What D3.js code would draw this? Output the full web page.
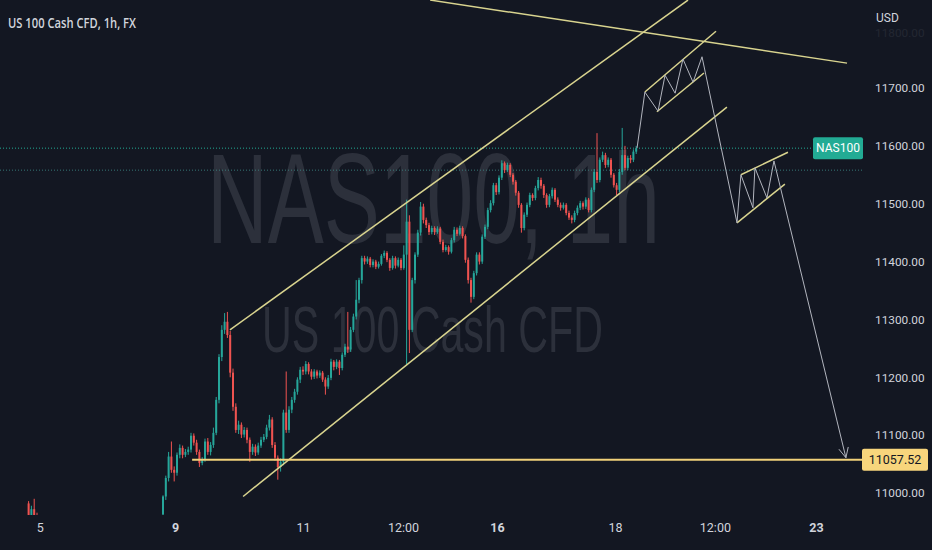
<!DOCTYPE html>
<html><head><meta charset="utf-8">
<script src="https://cdn.jsdelivr.net/npm/d3@7"></script>
<style>html,body{margin:0;padding:0;background:#131722;overflow:hidden}</style>
</head><body>
<svg id="c" width="932" height="550"></svg>
<script>
// ---------- data ----------
const title = "US 100 Cash CFD, 1h, FX";
const watermarkMain = "NAS100, 1h";
const watermarkSub = "US 100 Cash CFD";
const currency = "USD";
const symbol = "NAS100";
const priceTicks = [11000, 11100, 11200, 11300, 11400, 11500, 11600, 11700];
const fadedTick = 11800;
const timeTickLabels = ["5", "9", "11", "12:00", "16", "18", "12:00", "23"];
const timeTickBars = [-44, 4.3, 50, 85.7, 119.3, 161.4, 197.1, 233.2];
const timeTickBold = [false, true, false, false, true, false, false, true];

// hourly bars [open, high, low, close]
const earlyStart = -48;
const earlyBars = [
  [10982, 10986, 10955, 10962], [10962, 10978, 10950, 10972],
  [10972, 10990, 10955, 10958], [10958, 10966, 10940, 10945]
];
const bars = [
  [10963,10996,10954,10994],[10994,11030,10988,11026],[11026,11071,11020,11063],[11063,11089,11035,11040],
  [11040,11046,11020,11035],[11035,11070,11030,11066],[11066,11084,11060,11078],[11078,11082,11060,11066],
  [11066,11076,11062,11071],[11071,11080,11066,11075],[11075,11104,11070,11099],[11099,11103,11082,11087],
  [11087,11092,11066,11071],[11071,11075,11045,11052],[11052,11062,11048,11058],[11058,11094,11054,11089],
  [11089,11095,11066,11071],[11071,11088,11065,11083],[11083,11113,11078,11104],[11104,11166,11100,11161],
  [11161,11240,11155,11235],[11235,11290,11228,11282],[11282,11311,11275,11296],[11296,11313,11268,11273],
  [11273,11280,11200,11208],[11208,11215,11142,11149],[11149,11155,11104,11109],[11109,11125,11102,11118],
  [11118,11122,11095,11101],[11101,11114,11096,11109],[11109,11113,11086,11092],[11092,11096,11054,11071],
  [11071,11085,11066,11080],[11080,11084,11064,11070],[11070,11087,11066,11082],[11082,11097,11078,11092],
  [11092,11102,11088,11097],[11097,11118,11093,11113],[11113,11135,11108,11127],[11127,11131,11078,11083],
  [11083,11088,11056,11061],[11061,11065,11023,11045],[11045,11060,11037,11054],[11054,11144,11048,11139],
  [11139,11210,11104,11109],[11109,11150,11104,11144],[11144,11166,11138,11161],[11161,11180,11156,11175],
  [11175,11200,11170,11196],[11196,11218,11190,11213],[11213,11219,11204,11210],[11210,11228,11205,11223],
  [11223,11226,11205,11210],[11210,11214,11196,11201],[11201,11214,11197,11210],[11210,11213,11198,11203],
  [11203,11212,11199,11208],[11208,11211,11192,11196],[11196,11200,11170,11184],[11184,11204,11180,11199],
  [11199,11232,11195,11227],[11227,11230,11212,11218],[11218,11231,11214,11227],[11227,11230,11204,11216],
  [11216,11243,11212,11239],[11239,11258,11235,11253],[11253,11313,11242,11248],[11248,11287,11244,11282],
  [11282,11310,11278,11305],[11305,11368,11300,11334],[11334,11372,11328,11368],[11368,11410,11362,11406],
  [11406,11410,11395,11400],[11400,11409,11396,11405],[11405,11408,11390,11394],[11394,11404,11390,11400],
  [11400,11403,11387,11391],[11391,11400,11388,11396],[11396,11413,11393,11410],[11410,11419,11406,11415],
  [11415,11418,11399,11403],[11403,11406,11384,11389],[11389,11410,11386,11406],[11406,11409,11388,11393],
  [11393,11407,11390,11403],[11403,11406,11385,11389],[11389,11428,11386,11412],[11412,11507,11222,11469],
  [11469,11480,11242,11282],[11282,11372,11278,11368],[11368,11416,11362,11412],[11412,11455,11408,11450],
  [11450,11503,11445,11495],[11495,11500,11466,11472],[11472,11476,11458,11463],[11463,11467,11446,11451],
  [11451,11462,11447,11458],[11458,11461,11446,11451],[11451,11461,11448,11457],[11457,11460,11430,11434],
  [11434,11438,11416,11420],[11420,11429,11417,11425],[11425,11428,11412,11417],[11417,11441,11414,11437],
  [11437,11460,11433,11455],[11455,11459,11444,11448],[11448,11462,11445,11458],[11458,11461,11440,11444],
  [11444,11447,11398,11403],[11403,11407,11362,11368],[11368,11372,11329,11339],[11339,11384,11335,11380],
  [11380,11416,11376,11412],[11412,11416,11395,11400],[11400,11447,11396,11443],[11443,11464,11439,11460],
  [11460,11493,11456,11489],[11489,11506,11485,11501],[11501,11536,11497,11532],[11532,11536,11515,11520],
  [11520,11549,11516,11545],[11545,11575,11541,11570],[11570,11573,11553,11558],[11558,11571,11555,11567],
  [11567,11570,11546,11550],[11550,11553,11533,11538],[11538,11541,11514,11519],[11519,11522,11493,11498],
  [11498,11501,11450,11458],[11458,11485,11454,11481],[11481,11502,11477,11498],[11498,11519,11494,11515],
  [11515,11518,11505,11510],[11510,11531,11506,11527],[11527,11546,11523,11541],[11541,11545,11526,11531],
  [11531,11534,11510,11515],[11515,11518,11493,11498],[11498,11517,11494,11513],[11513,11528,11509,11524],
  [11524,11527,11503,11507],[11507,11511,11494,11498],[11498,11502,11488,11493],[11493,11502,11490,11498],
  [11498,11501,11480,11484],[11484,11488,11472,11476],[11476,11480,11466,11472],[11472,11488,11468,11484],
  [11484,11497,11480,11493],[11493,11505,11489,11501],[11501,11504,11490,11495],[11495,11511,11491,11507],
  [11507,11510,11485,11489],[11489,11528,11485,11524],[11524,11560,11520,11555],[11555,11622,11536,11541],
  [11541,11580,11537,11576],[11576,11590,11572,11584],[11584,11588,11562,11567],[11567,11580,11563,11576],
  [11576,11579,11545,11550],[11550,11553,11528,11532],[11532,11536,11515,11524],[11524,11560,11520,11555],
  [11555,11631,11550,11584],[11584,11600,11558,11562],[11562,11583,11558,11579],[11579,11584,11570,11576],
  [11576,11594,11572,11590],[11590,11600,11586,11596]
];
const lastPrice = 11596;
const prevClosePrice = 11558;
const supportLevel = 11057.52;
const supportStartBar = 10.4;

// drawings: [barIndex, price]
const upperChannel = [[23.9, 11282], [187.5, 11852]];
const lowerChannel = [[28.6, 10994], [201.4, 11667]];
const resistanceLine = [[95.4, 11852], [244.3, 11743]];
const flag1Upper = [[172.1, 11693], [197.5, 11798]];
const flag1Lower = [[176.4, 11659], [193.2, 11726]];
const flag2Upper = [[206.4, 11550], [223.2, 11589]];
const flag2Lower = [[205.0, 11467], [222.1, 11534]];
const projection = [
  [169.3, 11596], [172.1, 11693], [176.8, 11660], [179.3, 11722], [182.9, 11691],
  [185.7, 11750], [189.3, 11710], [192.5, 11754], [205.0, 11467], [206.4, 11550],
  [210.7, 11493], [211.4, 11562], [215.7, 11510], [218.2, 11574], [243.9, 11061]
];

// ---------- layout ----------
const W = 932, H = 550, plotR = 862, plotB = 515;
const UP = "#26a69a", DOWN = "#ef5350", TEAL = "#22ab94";
const LINE_Y = "#d9d48f", SUPPORT = "#f2d27a", GREY = "#b2b5be", TXT = "#d1d4dc";

const svg = d3.select("#c");
svg.append("rect").attr("width", W).attr("height", H).attr("fill", "#131722");

const x = d3.scaleLinear().domain([0, 169]).range([163, 636.2]);
const y = d3.scaleLinear().domain([11000, 11700]).range([493, 88]);

svg.append("defs").append("clipPath").attr("id", "plot")
  .append("rect").attr("x", 0).attr("y", 0).attr("width", plotR).attr("height", plotB);

// watermark: fit the natural width, then stretch vertically
const wm = svg.append("g").attr("fill", "#2c303b").attr("font-family", "Liberation Sans, Arial, sans-serif");
function stretchedText(txt, x0, y0, targetW, targetSize) {
  const t = wm.append("text").attr("font-size", 100).text(txt);
  const w100 = t.node().getComputedTextLength();
  const fs = 100 * targetW / w100;
  t.attr("font-size", fs).attr("transform", `translate(${x0},${y0}) scale(1,${targetSize / fs})`);
}
stretchedText(watermarkMain, 207, 243, 453, 128);
stretchedText(watermarkSub, 262, 352, 341, 64);

const plot = svg.append("g").attr("clip-path", "url(#plot)");

// price lines (dotted)
plot.append("line").attr("x1", 0).attr("x2", 813).attr("y1", y(lastPrice)).attr("y2", y(lastPrice))
  .attr("stroke", TEAL).attr("stroke-width", 1).attr("stroke-dasharray", "1,2");
plot.append("line").attr("x1", 0).attr("x2", plotR).attr("y1", y(prevClosePrice)).attr("y2", y(prevClosePrice))
  .attr("stroke", "#3f8f8a").attr("stroke-width", 1).attr("stroke-dasharray", "1,2").attr("opacity", 0.8);

// candles
const allBars = earlyBars.map((b, i) => ({i: earlyStart + i, o: b[0], h: b[1], l: b[2], c: b[3]}))
  .concat(bars.map((b, i) => ({i, o: b[0], h: b[1], l: b[2], c: b[3]})));
const cg = plot.append("g");
cg.selectAll("rect.w").data(allBars).join("rect").attr("class", "w")
  .attr("x", d => x(d.i) - 0.5).attr("width", 1)
  .attr("y", d => y(d.h)).attr("height", d => Math.max(1, y(d.l) - y(d.h)))
  .attr("fill", d => d.c >= d.o ? UP : DOWN);
cg.selectAll("rect.b").data(allBars).join("rect").attr("class", "b")
  .attr("x", d => x(d.i) - 1).attr("width", 2)
  .attr("y", d => y(Math.max(d.o, d.c))).attr("height", d => Math.max(1, Math.abs(y(d.o) - y(d.c))))
  .attr("fill", d => d.c >= d.o ? UP : DOWN);

// drawings
const ln = d3.line().x(d => x(d[0])).y(d => y(d[1]));
const dg = plot.append("g").attr("fill", "none");
[upperChannel, lowerChannel, resistanceLine, flag1Upper, flag1Lower, flag2Upper, flag2Lower].forEach(seg => {
  dg.append("path").attr("d", ln(seg)).attr("stroke", LINE_Y).attr("stroke-width", 1.5);
});
dg.append("line").attr("x1", x(supportStartBar)).attr("x2", plotR)
  .attr("y1", y(supportLevel)).attr("y2", y(supportLevel))
  .attr("stroke", SUPPORT).attr("stroke-width", 2);
dg.append("path").attr("d", ln(projection)).attr("stroke", GREY).attr("stroke-width", 1);
// arrow head
const pA = projection[projection.length - 2], pB = projection[projection.length - 1];
const ax = x(pB[0]), ay = y(pB[1]);
const ang = Math.atan2(ay - y(pA[1]), ax - x(pA[0]));
const hl = 11, spread = 0.45;
dg.append("path")
  .attr("d", `M${ax - hl * Math.cos(ang - spread)},${ay - hl * Math.sin(ang - spread)}L${ax},${ay}L${ax - hl * Math.cos(ang + spread)},${ay - hl * Math.sin(ang + spread)}`)
  .attr("stroke", GREY).attr("stroke-width", 1);

// title
svg.append("text").attr("x", 8).attr("y", 28).attr("fill", TXT)
  .attr("font-family", "Open Sans, Liberation Sans, sans-serif").attr("font-size", 14).attr("font-weight", 600)
  .attr("textLength", 128).attr("lengthAdjust", "spacingAndGlyphs").text(title);

// right axis
const ra = svg.append("g").attr("transform", `translate(${plotR},0)`)
  .call(d3.axisRight(y).tickValues(priceTicks).tickFormat(d3.format(".2f")).tickSize(0).tickPadding(13));
ra.select(".domain").remove();
ra.selectAll("text").attr("fill", TXT).attr("font-family", "Roboto, sans-serif").attr("font-size", 11.8);
svg.append("text").attr("x", plotR + 13).attr("y", y(fadedTick) + 3).attr("dy", "0.32em")
  .attr("fill", TXT).attr("opacity", 0.08).attr("font-family", "Roboto, sans-serif").attr("font-size", 11.8)
  .text(d3.format(".2f")(fadedTick));
svg.append("text").attr("x", plotR + 14).attr("y", 22).attr("fill", TXT)
  .attr("font-family", "Roboto, sans-serif").attr("font-size", 12).text(currency);

// symbol label
const ly = y(lastPrice);
svg.append("rect").attr("x", 813).attr("y", ly - 11).attr("width", 50).attr("height", 22).attr("rx", 2).attr("fill", TEAL);
svg.append("text").attr("x", 838).attr("y", ly).attr("dy", "0.35em").attr("text-anchor", "middle")
  .attr("fill", "#ffffff").attr("font-family", "Roboto, sans-serif").attr("font-size", 12).text(symbol);

// support label
const sy = y(supportLevel);
svg.append("rect").attr("x", 862).attr("y", sy - 11).attr("width", 66).attr("height", 22).attr("rx", 2).attr("fill", "#f7d57c");
svg.append("text").attr("x", 895).attr("y", sy).attr("dy", "0.35em").attr("text-anchor", "middle")
  .attr("fill", "#131722").attr("font-family", "Roboto, sans-serif").attr("font-size", 12.5).text(supportLevel.toFixed(2));

// bottom axis
const ba = svg.append("g").attr("transform", `translate(0,${plotB})`)
  .call(d3.axisBottom(x).tickValues(timeTickBars).tickFormat((d, i) => timeTickLabels[i]).tickSize(0).tickPadding(8));
ba.select(".domain").remove();
ba.selectAll("text").attr("fill", TXT).attr("font-family", "Roboto, sans-serif").attr("font-size", 12.5)
  .attr("font-weight", (d, i) => timeTickBold[i] ? 700 : 400);
</script>
</body></html>
